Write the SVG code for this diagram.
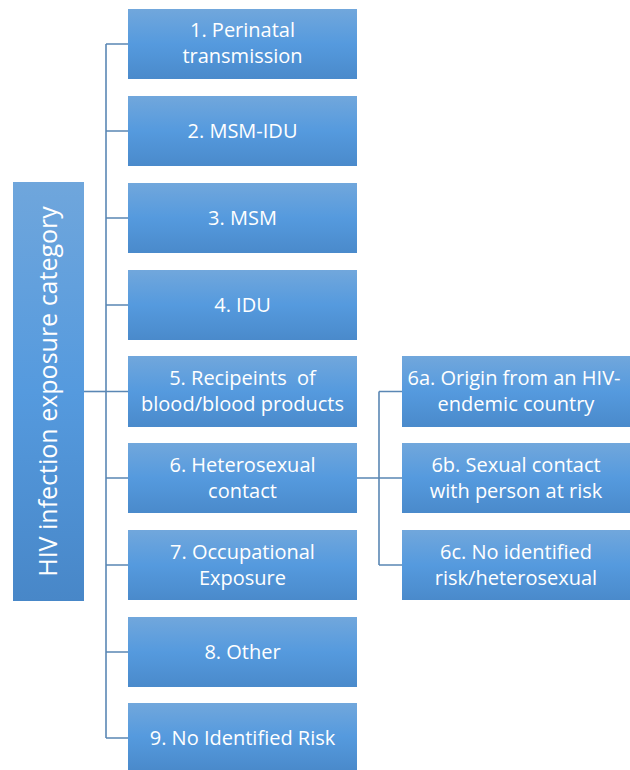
<svg xmlns="http://www.w3.org/2000/svg" width="630" height="770" viewBox="0 0 630 770">
<defs>
<linearGradient id="g" x1="0" y1="0" x2="0" y2="1">
<stop offset="0" stop-color="#71a7dc"/>
<stop offset="0.5" stop-color="#559ade"/>
<stop offset="1" stop-color="#4a8acb"/>
</linearGradient>
<linearGradient id="gr" x1="0" y1="0" x2="0" y2="1">
<stop offset="0" stop-color="#6fa6dc"/>
<stop offset="0.5" stop-color="#559ade"/>
<stop offset="1" stop-color="#4887c8"/>
</linearGradient>
</defs>
<style>
.b{fill:url(#g)}
.t{font-family:"Open Sans","Liberation Sans",Arial,sans-serif;font-size:20px;fill:#fff;text-anchor:middle}
.c{fill:none;stroke:#5a87b4;stroke-width:1.6}
</style>
<rect width="630" height="770" fill="#fff"/>
<g id="connectors">
<path class="c" d="M106 44V738"/>
<path class="c" d="M84 391.5H106"/>
<path class="c" d="M106 44H128M106 131H128M106 218H128M106 305H128M106 391.5H128M106 478H128M106 565H128M106 652H128M106 738H128"/>
<path class="c" d="M357 478H379M379 391.5V565M379 391.5H402M379 478H402M379 565H402"/>
</g>
<g id="root">
<rect x="13" y="182" width="71" height="419" fill="url(#gr)"/>
<text class="t" style="font-size:25px" transform="translate(57 391.5) rotate(-90)">HIV infection exposure category</text>
</g>
<g id="n1"><rect class="b" x="128" y="9" width="229" height="70"/><text class="t" x="242.5" y="37">1. Perinatal</text><text class="t" x="242.5" y="63">transmission</text></g>
<g id="n2"><rect class="b" x="128" y="96" width="229" height="70"/><text class="t" x="242.5" y="138">2. MSM-IDU</text></g>
<g id="n3"><rect class="b" x="128" y="183" width="229" height="70"/><text class="t" x="242.5" y="225">3. MSM</text></g>
<g id="n4"><rect class="b" x="128" y="270" width="229" height="70"/><text class="t" x="242.5" y="312">4. IDU</text></g>
<g id="n5"><rect class="b" x="128" y="356" width="229" height="71"/><text class="t" x="242.5" y="385" xml:space="preserve">5. Recipeints  of</text><text class="t" x="242.5" y="411">blood/blood products</text></g>
<g id="n6"><rect class="b" x="128" y="443" width="229" height="70"/><text class="t" x="242.5" y="472">6. Heterosexual</text><text class="t" x="242.5" y="498">contact</text></g>
<g id="n7"><rect class="b" x="128" y="530" width="229" height="70"/><text class="t" x="242.5" y="559">7. Occupational</text><text class="t" x="242.5" y="585">Exposure</text></g>
<g id="n8"><rect class="b" x="128" y="617" width="229" height="70"/><text class="t" x="242.5" y="659">8. Other</text></g>
<g id="n9"><rect class="b" x="128" y="703" width="229" height="67"/><text class="t" x="242.5" y="745">9. No Identified Risk</text></g>
<g id="n6a"><rect class="b" x="402" y="356" width="228" height="71"/><text class="t" x="514" y="385">6a. Origin from an HIV-</text><text class="t" x="516" y="411">endemic country</text></g>
<g id="n6b"><rect class="b" x="402" y="443" width="228" height="70"/><text class="t" x="516" y="472">6b. Sexual contact</text><text class="t" x="516" y="498">with person at risk</text></g>
<g id="n6c"><rect class="b" x="402" y="530" width="228" height="70"/><text class="t" x="516" y="559">6c. No identified</text><text class="t" x="516" y="585">risk/heterosexual</text></g>
</svg>
